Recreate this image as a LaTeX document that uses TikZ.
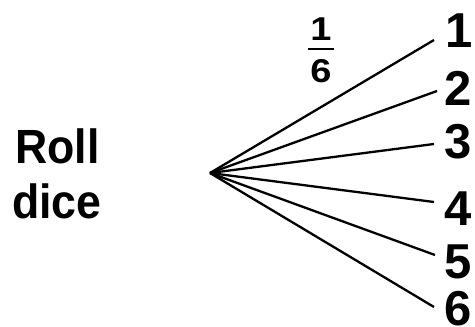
\documentclass[tikz,border=0pt]{standalone}
\usepackage{fontspec}
\setmainfont{Liberation Sans}
\begin{document}
\begin{tikzpicture}[x=1pt,y=-1pt,
  branch/.style={line width=2.3pt},
  outcome/.style={font=\fontsize{49}{49}\selectfont\bfseries, inner sep=0pt, anchor=base west},
  fracdigit/.style={font=\fontsize{33}{33}\selectfont\bfseries, inner sep=0pt, anchor=base},
  title/.style={font=\fontsize{48}{55}\selectfont\bfseries, inner sep=0pt, anchor=base west}]
\useasboundingbox (0,0) rectangle (475,327);
\coordinate (o) at (210,173);
\coordinate (e1) at (434,40);
\coordinate (e2) at (437,91);
\coordinate (e3) at (434,144);
\coordinate (e4) at (434,202);
\coordinate (e5) at (435,255);
\coordinate (e6) at (434,307);
\foreach \i in {1,...,6} \draw[branch] (o) -- (e\i);
\node[outcome] (n1) at (445,47) {1};
\node[outcome] (n2) at (444,105) {2};
\node[outcome] (n3) at (444,158) {3};
\node[outcome] (n4) at (444,225) {4};
\node[outcome] (n5) at (444,278) {5};
\node[outcome] (n6) at (444,325) {6};
\node[title] (roll) at (15,163) {\scalebox{0.93}[1]{Roll}};
\node[title] (dice) at (12,218) {\scalebox{0.93}[1]{dice}};
\node[fracdigit] (num) at (321,40) {\scalebox{1.15}[1]{1}};
\node[fracdigit] (den) at (321,82) {\scalebox{1.15}[1]{6}};
\draw[line width=2.5pt] (308,49) -- (334,49);
\end{tikzpicture}
\end{document}
